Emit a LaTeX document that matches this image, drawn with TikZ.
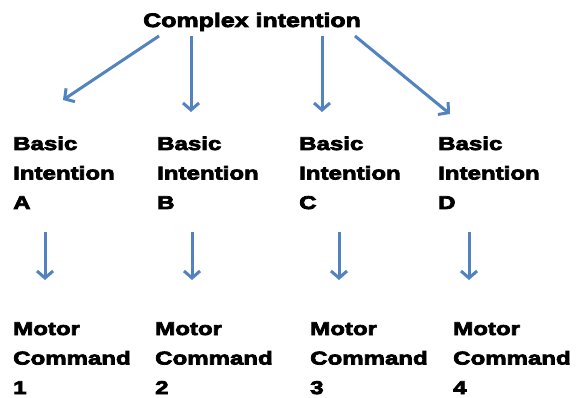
\documentclass[tikz,border=0pt]{standalone}
\usepackage{fontspec}
\usetikzlibrary{arrows.meta,calc}
\newfontfamily\lblfont{Liberation Sans}[FakeStretch=1.3,BoldFeatures={FakeBold=4}]
\newfontfamily\topfont{Liberation Sans}[FakeStretch=1.28,BoldFeatures={FakeBold=4}]
\definecolor{arrblue}{HTML}{5283C0}
\tikzset{
  lbl/.style={font={\lblfont\bfseries\fontsize{18.5}{29.5}\selectfont}, align=left, anchor=base west, inner sep=0pt},
  toplbl/.style={font={\topfont\bfseries\fontsize{19.5}{24}\selectfont}, anchor=base west, inner sep=0pt},
  arr/.style={draw=arrblue, line width=3pt, -{Straight Barb[length=7pt,width=16pt]}}
}
\begin{document}
\begin{tikzpicture}[x=1pt,y=-1pt]
\useasboundingbox[fill=white] (0,0) rectangle (576,398);
\node[toplbl] (ci) at (143,27) {Complex intention};
\node[lbl] (bA) at (13,209) {Basic\\Intention\\A};
\node[lbl] (bB) at (157,209) {Basic\\Intention\\B};
\node[lbl] (bC) at (299,209) {Basic\\Intention\\C};
\node[lbl] (bD) at (438,209) {Basic\\Intention\\D};
\node[lbl] (mA) at (13,394) {Motor\\Command\\1};
\node[lbl] (mB) at (155,394) {Motor\\Command\\2};
\node[lbl] (mC) at (310,394) {Motor\\Command\\3};
\node[lbl] (mD) at (453,394) {Motor\\Command\\4};
\draw[arr] ($(ci.base west)+(16,9)$) -- ($(bA.base west)+(50,-109)$);
\draw[arr] ($(ci.base west)+(48,9)$) -- ($(bB.base west)+(34,-97)$);
\draw[arr] ($(ci.base west)+(179,9)$) -- ($(bC.base west)+(23,-97)$);
\draw[arr] ($(ci.base west)+(212,9)$) -- ($(bD.base west)+(12,-95)$);
\draw[arr] ($(bA.base west)+(32,23)$) -- ($(mA.base west)+(32,-114)$);
\draw[arr] ($(bB.base west)+(35,23)$) -- ($(mB.base west)+(37,-114)$);
\draw[arr] ($(bC.base west)+(40,23)$) -- ($(mC.base west)+(29,-114)$);
\draw[arr] ($(bD.base west)+(31,23)$) -- ($(mD.base west)+(16,-114)$);
\end{tikzpicture}
\end{document}
